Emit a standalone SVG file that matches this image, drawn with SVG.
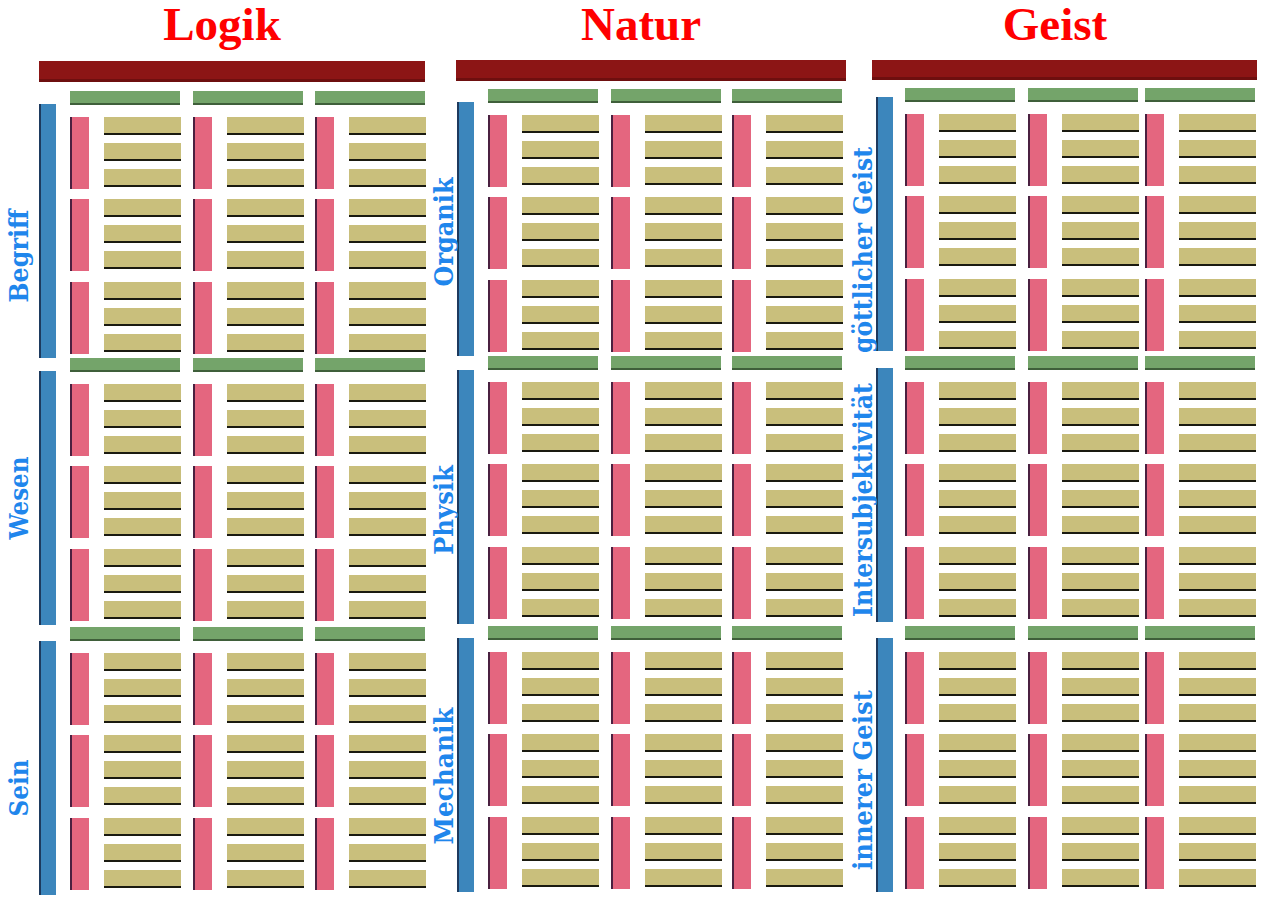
<svg xmlns="http://www.w3.org/2000/svg" xmlns:xlink="http://www.w3.org/1999/xlink" width="1267" height="905" viewBox="0 0 1267 905">
<style>
.title{font-family:"Liberation Serif","Times New Roman",serif;font-weight:bold;font-size:47px;fill:#ff0000;text-anchor:middle}
.lbl{font-family:"DejaVu Serif",serif;font-weight:bold;font-size:26px;fill:#1f86ec;text-anchor:middle}
.red{fill:#8c1515}
.redb{fill:#6e0f0f}
.green{fill:#74a46a}
.greenb{fill:#3f5f3a}
.blue{fill:#3c86bc}
.blueb{fill:#1d3a5e}
.pink{fill:#e4667f}
.pinkb{fill:#4a2040}
.yel{fill:#c9bf7c}
.ul{fill:#1a1a10}
</style>
<defs>
<g id="unit">
<rect class="pink" x="0" y="0" width="19" height="72"/>
<rect class="pinkb" x="0" y="0" width="2" height="72"/>
<rect class="yel" x="34" y="0" width="77" height="17"/>
<rect class="ul" x="34" y="16" width="77" height="2"/>
<rect class="yel" x="34" y="26" width="77" height="17"/>
<rect class="ul" x="34" y="42" width="77" height="2"/>
<rect class="yel" x="34" y="52" width="77" height="17"/>
<rect class="ul" x="34" y="68" width="77" height="2"/>
</g>
<g id="subcol">
<rect class="green" x="0" y="-26" width="110" height="14"/>
<rect class="greenb" x="0" y="-14" width="110" height="2"/>
<use xlink:href="#unit" href="#unit" y="0"/>
<use xlink:href="#unit" href="#unit" y="82"/>
<use xlink:href="#unit" href="#unit" y="165"/>
</g>
<g id="blueBar">
<rect class="blue" x="0" y="0" width="17" height="254"/>
<rect class="blueb" x="0" y="0" width="2" height="254"/>
</g>
</defs>
<rect width="1267" height="905" fill="#ffffff"/>

<g id="col-logik">
<text class="title" x="222" y="40">Logik</text>
<rect class="red" x="39" y="61" width="386" height="21"/>
<rect class="redb" x="39" y="79" width="386" height="3"/>
<g id="logik-begriff">
<use xlink:href="#blueBar" href="#blueBar" x="39" y="104"/>
<text class="lbl" transform="translate(28,256) rotate(-90)" textLength="93" lengthAdjust="spacingAndGlyphs">Begriff</text>
<use xlink:href="#subcol" href="#subcol" x="70" y="117"/>
<use xlink:href="#subcol" href="#subcol" x="193" y="117"/>
<use xlink:href="#subcol" href="#subcol" x="315" y="117"/>
</g>
<g id="logik-wesen">
<use xlink:href="#blueBar" href="#blueBar" x="39" y="371"/>
<text class="lbl" transform="translate(28,498) rotate(-90)" textLength="83" lengthAdjust="spacingAndGlyphs">Wesen</text>
<use xlink:href="#subcol" href="#subcol" x="70" y="384"/>
<use xlink:href="#subcol" href="#subcol" x="193" y="384"/>
<use xlink:href="#subcol" href="#subcol" x="315" y="384"/>
</g>
<g id="logik-sein">
<use xlink:href="#blueBar" href="#blueBar" x="39" y="641"/>
<text class="lbl" transform="translate(28,788) rotate(-90)" textLength="57" lengthAdjust="spacingAndGlyphs">Sein</text>
<use xlink:href="#subcol" href="#subcol" x="70" y="653"/>
<use xlink:href="#subcol" href="#subcol" x="193" y="653"/>
<use xlink:href="#subcol" href="#subcol" x="315" y="653"/>
</g>
</g>

<g id="col-natur">
<text class="title" x="641" y="40">Natur</text>
<rect class="red" x="456" y="60" width="390" height="21"/>
<rect class="redb" x="456" y="78" width="390" height="3"/>
<g id="natur-organik">
<use xlink:href="#blueBar" href="#blueBar" x="457" y="102"/>
<text class="lbl" transform="translate(453,232) rotate(-90)" textLength="109" lengthAdjust="spacingAndGlyphs">Organik</text>
<use xlink:href="#subcol" href="#subcol" x="488" y="115"/>
<use xlink:href="#subcol" href="#subcol" x="611" y="115"/>
<use xlink:href="#subcol" href="#subcol" x="732" y="115"/>
</g>
<g id="natur-physik">
<use xlink:href="#blueBar" href="#blueBar" x="457" y="370"/>
<text class="lbl" transform="translate(453,510) rotate(-90)" textLength="90" lengthAdjust="spacingAndGlyphs">Physik</text>
<use xlink:href="#subcol" href="#subcol" x="488" y="382"/>
<use xlink:href="#subcol" href="#subcol" x="611" y="382"/>
<use xlink:href="#subcol" href="#subcol" x="732" y="382"/>
</g>
<g id="natur-mechanik">
<use xlink:href="#blueBar" href="#blueBar" x="457" y="638"/>
<text class="lbl" transform="translate(453,776) rotate(-90)" textLength="137" lengthAdjust="spacingAndGlyphs">Mechanik</text>
<use xlink:href="#subcol" href="#subcol" x="488" y="652"/>
<use xlink:href="#subcol" href="#subcol" x="611" y="652"/>
<use xlink:href="#subcol" href="#subcol" x="732" y="652"/>
</g>
</g>

<g id="col-geist">
<text class="title" x="1055" y="40">Geist</text>
<rect class="red" x="872" y="60" width="385" height="20"/>
<rect class="redb" x="872" y="77" width="385" height="3"/>
<g id="geist-goettlich">
<use xlink:href="#blueBar" href="#blueBar" x="876" y="97"/>
<text class="lbl" transform="translate(872,250) rotate(-90)" textLength="206" lengthAdjust="spacingAndGlyphs">göttlicher Geist</text>
<use xlink:href="#subcol" href="#subcol" x="905" y="114"/>
<use xlink:href="#subcol" href="#subcol" x="1028" y="114"/>
<use xlink:href="#subcol" href="#subcol" x="1145" y="114"/>
</g>
<g id="geist-intersubjektivitaet">
<use xlink:href="#blueBar" href="#blueBar" x="876" y="368"/>
<text class="lbl" transform="translate(872,500) rotate(-90)" textLength="234" lengthAdjust="spacingAndGlyphs">Intersubjektivität</text>
<use xlink:href="#subcol" href="#subcol" x="905" y="382"/>
<use xlink:href="#subcol" href="#subcol" x="1028" y="382"/>
<use xlink:href="#subcol" href="#subcol" x="1145" y="382"/>
</g>
<g id="geist-innerer">
<use xlink:href="#blueBar" href="#blueBar" x="876" y="638"/>
<text class="lbl" transform="translate(872,780) rotate(-90)" textLength="180" lengthAdjust="spacingAndGlyphs">innerer Geist</text>
<use xlink:href="#subcol" href="#subcol" x="905" y="652"/>
<use xlink:href="#subcol" href="#subcol" x="1028" y="652"/>
<use xlink:href="#subcol" href="#subcol" x="1145" y="652"/>
</g>
</g>
</svg>
